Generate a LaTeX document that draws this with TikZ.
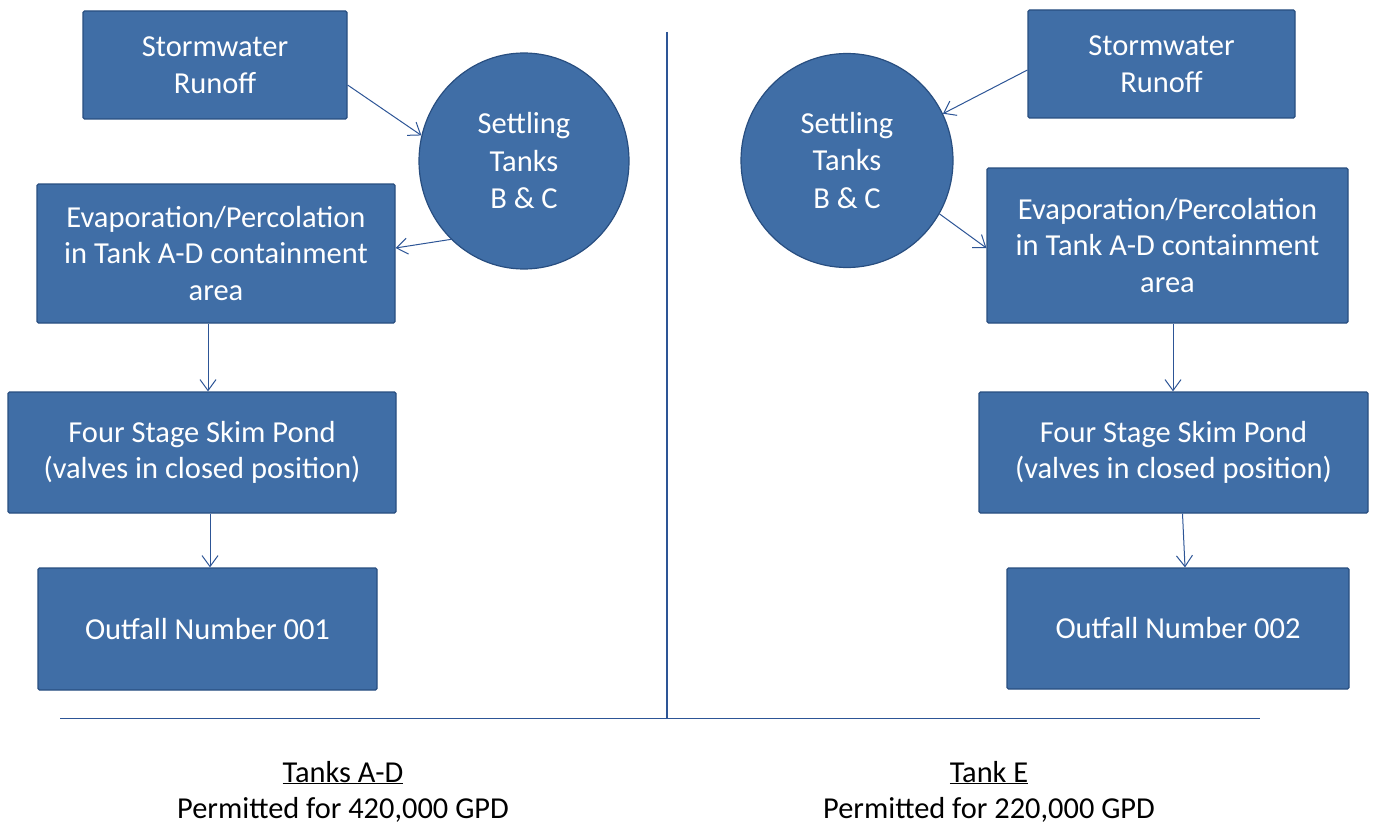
\documentclass[tikz,border=0pt]{standalone}
\usepackage{fontspec}
\setmainfont{Carlito}
\usetikzlibrary{arrows.meta,shapes.geometric}
\definecolor{boxfill}{RGB}{64,110,166}
\definecolor{boxline}{RGB}{40,78,128}
\definecolor{linkcol}{RGB}{45,85,150}
\tikzset{
  procbox/.style={rectangle, fill=boxfill, draw=boxline, line width=1.2pt, rounded corners=1.5pt,
    text=white, align=center, inner sep=0pt, font=\fontsize{30.5}{36.5}\selectfont},
  tankcirc/.style={ellipse, fill=boxfill, draw=boxline, line width=1.2pt,
    text=white, align=center, inner sep=0pt, font=\fontsize{30.5}{37.5}\selectfont},
  flow/.style={draw=linkcol, line width=1pt, -{Straight Barb[length=11pt,width=16pt,line width=1pt]}},
  divider/.style={draw=linkcol, line width=1.3pt},
  caption/.style={text=black, align=center, inner sep=0pt, font=\fontsize{30.4}{36}\selectfont}
}
\begin{document}
\begin{tikzpicture}[x=1pt,y=-1pt]
\useasboundingbox (0,0) rectangle (1375,824);
% left side
\node[procbox, minimum width=264pt, minimum height=108pt] (sw1) at (215,65) {Stormwater\\Runoff};
\node[tankcirc, minimum width=210pt, minimum height=216pt] (c1) at (524,161) {Settling\\Tanks\\B \& C};
\node[procbox, minimum width=358pt, minimum height=139pt] (ev1) at (216,253.5) {Evaporation/Percolation\\in Tank A-D containment\\area};
\node[procbox, minimum width=388pt, minimum height=121pt] (fs1) at (202,452.5) {Four Stage Skim Pond\\(valves in closed position)};
\node[procbox, minimum width=339pt, minimum height=122pt] (of1) at (207.5,629) {Outfall Number 001};
% right side
\node[procbox, minimum width=267pt, minimum height=108pt] (sw2) at (1161.5,64) {Stormwater\\Runoff};
\node[tankcirc, minimum width=212pt, minimum height=214pt] (c2) at (847,160.5) {Settling\\Tanks\\B \& C};
\node[procbox, minimum width=361pt, minimum height=155pt] (ev2) at (1167.5,245.5) {Evaporation/Percolation\\in Tank A-D containment\\area};
\node[procbox, minimum width=389pt, minimum height=121pt] (fs2) at (1173.5,452.5) {Four Stage Skim Pond\\(valves in closed position)};
\node[procbox, minimum width=342pt, minimum height=121pt] (of2) at (1178,628.5) {Outfall Number 002};
% connectors left
\draw[flow] ([yshift=-20pt]sw1.east) -- (c1.166);
\draw[flow] (c1.227) -- ([yshift=5.5pt]ev1.east);
\draw[flow] ([xshift=-8pt]ev1.south) -- ([xshift=-8pt]ev1.south |- fs1.north);
\draw[flow] ([xshift=8pt]fs1.south) -- ([xshift=8pt]fs1.south |- of1.north);
% connectors right
\draw[flow] ([yshift=-6pt]sw2.west) -- (c2.26);
\draw[flow] (c2.-30) -- ([yshift=-2.5pt]ev2.west);
\draw[flow] ([xshift=5.5pt]ev2.south) -- ([xshift=5.5pt]ev2.south |- fs2.north);
\draw[flow] ([xshift=9pt]fs2.south) -- ([xshift=7pt]of2.north);
% dividers
\coordinate (hl) at (60,718.5);
\coordinate (hr) at (1260,718.5);
\coordinate (vt) at (667,32);
\coordinate (vb) at (667,718.5);
\draw[divider] (hl) -- (hr);
\draw[divider] (vt) -- (vb);
% captions
\node[caption, anchor=base] (capL1) at (343,782) {\underline{Tanks A-D}};
\node[caption, anchor=base] (capL2) at (343,818) {Permitted for 420,000 GPD};
\node[caption, anchor=base] (capR1) at (989,782) {\underline{Tank E}};
\node[caption, anchor=base] (capR2) at (989,818) {Permitted for 220,000 GPD};
\end{tikzpicture}
\end{document}
